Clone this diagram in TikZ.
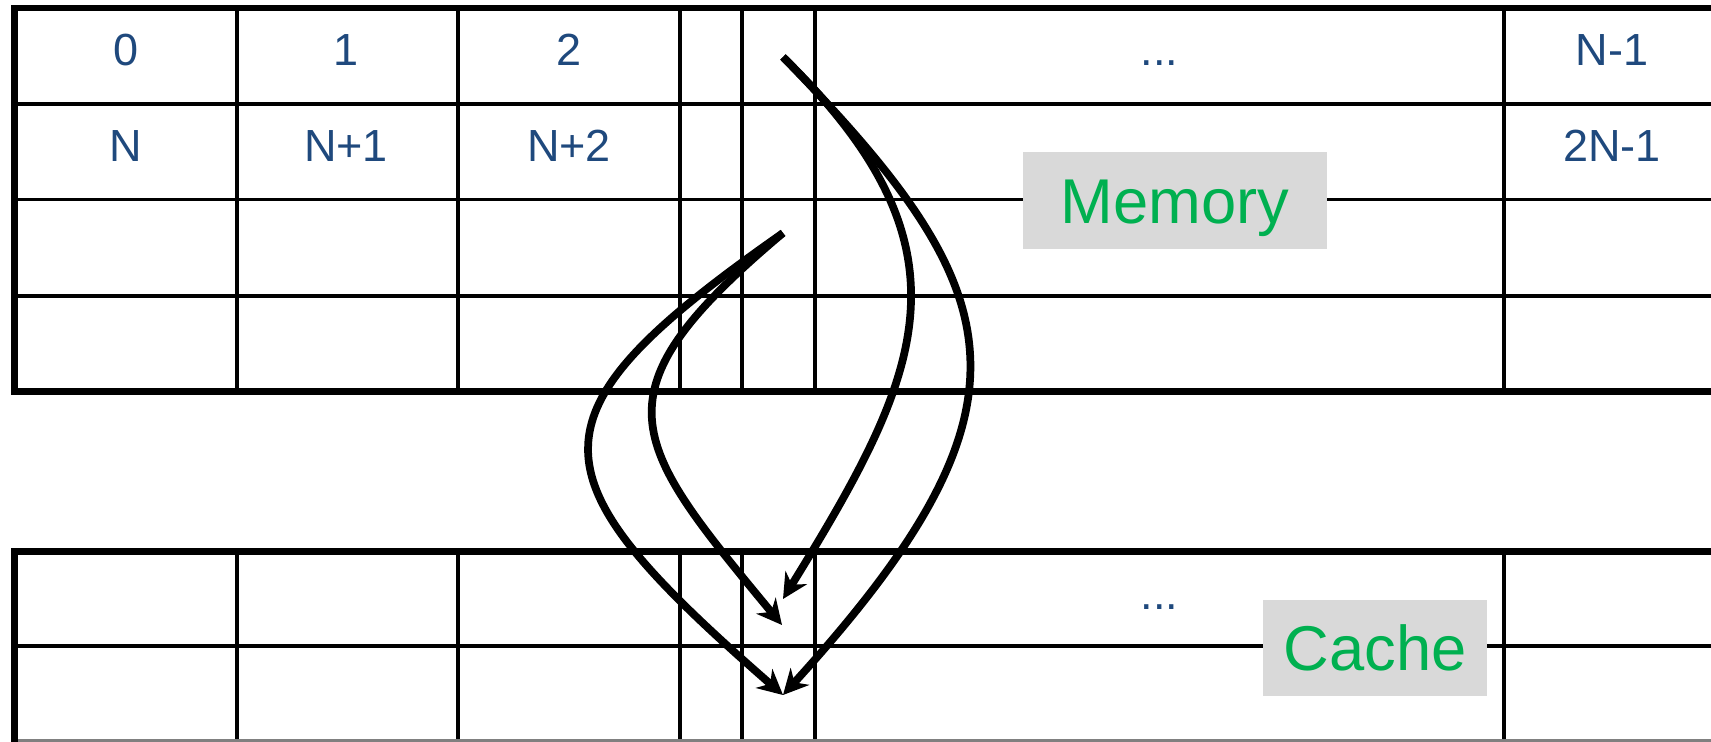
\documentclass[tikz,border=0pt]{standalone}
\usepackage{fontspec}
\setmainfont{Liberation Sans}
\usetikzlibrary{arrows.meta}
\definecolor{cellblue}{RGB}{31,73,125}
\definecolor{taggreen}{RGB}{0,176,80}
\definecolor{taggray}{RGB}{217,217,217}
\tikzstyle{thinline}=[line width=0.9pt]
\tikzstyle{thickline}=[line width=1.9pt]
\tikzstyle{cell}=[anchor=base, inner sep=0pt, text=cellblue, font=\fontsize{12.8}{15}\selectfont]
\tikzstyle{tag}=[fill=taggray, text=taggreen, inner sep=0pt, font=\fontsize{18}{21}\selectfont, text height=12.9pt, text depth=0pt]
\tikzstyle{flow}=[line width=2.2pt, -{Stealth[length=0.25cm,width=0.25cm,inset=0.08cm]}]

\begin{document}
\begin{tikzpicture}[x=0.01cm,y=-0.01cm]
		\useasboundingbox (0,0) rectangle (1711,742);
		\clip (0,0) rectangle (1711,742);
		
		% memory
		\draw[thinline] (14.5,104) -- (1720,104) (14.5,199.5) -- (1720,199.5) (14.5,296) -- (1720,296);
		\draw[thinline] (237,8) -- (237,391.5) (458,8) -- (458,391.5) (680,8) -- (680,391.5)
			(742,8) -- (742,391.5) (815,8) -- (815,391.5) (1504,8) -- (1504,391.5);
		\draw[thickline] (1720,8) -- (14.5,8) -- (14.5,391.5) -- (1720,391.5);
		
		% cache
		\draw[thinline] (14.5,646) -- (1720,646);
		\draw[thinline] (237,551.5) -- (237,745) (458,551.5) -- (458,745) (680,551.5) -- (680,745)
			(742,551.5) -- (742,745) (815,551.5) -- (815,745) (1504,551.5) -- (1504,745);
		\draw[thinline,gray] (14.5,741) -- (1720,741);
		\draw[thickline] (1720,551.5) -- (14.5,551.5) -- (14.5,745);
		
		\node[cell] (m0) at (126,65) {0};
		\node[cell] (m1) at (346,65) {1};
		\node[cell] (m2) at (569,65) {2};
		\node[cell] (mdots) at (1159.5,65) {...};
		\node[cell] (mlast) at (1612,65) {N-1};
		\node[cell] (n0) at (126,161) {N};
		\node[cell] (n1) at (346,161) {N+1};
		\node[cell] (n2) at (569,161) {N+2};
		\node[cell] (nlast) at (1612,161) {2N-1};
		\node[cell] (cdots) at (1159.5,609) {...};
		
		\node[tag,minimum width=3.04cm,minimum height=0.97cm] (memtag) at (1175,200.5) {Memory};
		\node[tag,minimum width=2.24cm,minimum height=0.96cm] (cachetag) at (1375,648) {Cache};
		
		\coordinate (top) at (783,57);
		\coordinate (mid) at (783,233);
		\coordinate (hitA) at (783,599);
		\coordinate (hitB) at (782,625);
		\coordinate (hitC) at (783,695);
		
		\draw[flow] (top) .. controls (980,250) and (923,372) .. (hitA);
		\draw[flow] (top) .. controls (1010,290) and (1051,401) .. (hitC);
		\draw[flow] (mid) .. controls (591,394.5) and (629,440) .. (hitB);
		\draw[flow] (mid) .. controls (520,417) and (530,474) .. (hitC);
	\end{tikzpicture}
\end{document}
